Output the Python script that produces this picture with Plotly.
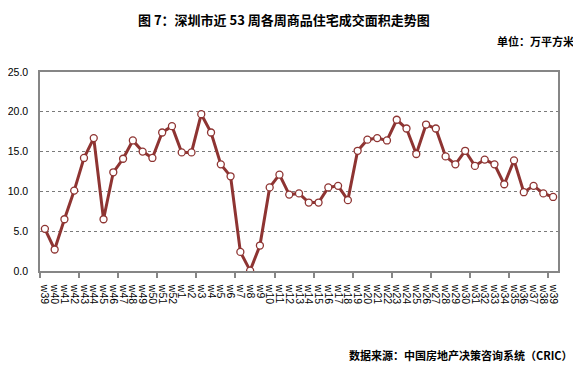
import plotly.graph_objects as go

weeks = ["w39", "w40", "w41", "w42", "w43", "w44", "w45", "w46", "w47", "w48", "w49", "w50", "w51", "w52",
         "w1", "w2", "w3", "w4", "w5", "w6", "w7", "w8", "w9", "w10", "w11", "w12", "w13", "w14", "w15",
         "w16", "w17", "w18", "w19", "w20", "w21", "w22", "w23", "w24", "w25", "w26", "w27", "w28", "w29",
         "w30", "w31", "w32", "w33", "w34", "w35", "w36", "w37", "w38", "w39"]
area = [5.3, 2.7, 6.5, 10.1, 14.2, 16.7, 6.5, 12.4, 14.1, 16.4, 15.0, 14.2, 17.4, 18.2,
        14.9, 14.9, 19.7, 17.4, 13.4, 11.9, 2.4, 0.05, 3.2, 10.5, 12.1, 9.6, 9.75, 8.6, 8.6,
        10.5, 10.7, 8.9, 15.1, 16.5, 16.7, 16.4, 19.0, 17.9, 14.7, 18.4, 17.9, 14.4, 13.4,
        15.1, 13.2, 14.0, 13.4, 10.9, 13.9, 9.9, 10.7, 9.75, 9.3]
y_ticks = [0, 5, 10, 15, 20, 25]
y_tick_text = ["0.0", "5.0", "10.0", "15.0", "20.0", "25.0"]

idx = list(range(len(weeks)))
LINE = "#8E3432"
AXIS = "#868686"
FONT = "Liberation Sans, Noto Sans CJK SC, sans-serif"
CJK = "Noto Sans CJK SC, sans-serif"

# page body has an 8px default margin: figure coords = screen coords - 8
OFF = 8
W, H = 573, 358
ML, MR, MT, MB = 32, 23, 64, 95
pw, ph = W - ML - MR, H - MT - MB


def px(xs):
    return (xs - OFF - ML) / pw


def py(ys):
    return (H - MB - (ys - OFF)) / ph


fig = go.Figure()
fig.add_trace(go.Scatter(
    x=idx, y=area, mode="lines+markers",
    line=dict(color=LINE, width=3),
    marker=dict(size=7, color="white", line=dict(color=LINE, width=1.3)),
    hoverinfo="skip",
))

fig.update_layout(
    width=W, height=H,
    margin=dict(l=ML, r=MR, t=MT, b=MB, autoexpand=False),
    paper_bgcolor="white", plot_bgcolor="white",
    showlegend=False,
    font=dict(family=FONT, size=11, color="#000000"),
    xaxis=dict(
        range=[-0.5, len(weeks) - 0.5], automargin=False,
        tickmode="array", tickvals=idx, ticktext=weeks,
        tickangle=90, ticks="", showgrid=False, zeroline=False,
        showline=True, linecolor=AXIS, linewidth=1.5, mirror=True,
        tickfont=dict(family=FONT, size=10.5, color="#000000"),
        ticklabelstandoff=10,
        minor=dict(tickmode="array", tickvals=[-0.5 + 4 * k for k in range(14)],
                   ticks="outside", ticklen=5, tickcolor=AXIS, tickwidth=1.5, showgrid=False),
    ),
    yaxis=dict(
        range=[0, 25], automargin=False, tickmode="array", tickvals=y_ticks, ticktext=y_tick_text,
        showgrid=True, gridcolor="#7a7a7a", griddash="dot", gridwidth=1,
        zeroline=False, showline=True, linecolor=AXIS, linewidth=1.5, mirror=True,
        ticks="", ticklabelstandoff=8,
        tickfont=dict(family=FONT, size=10.5, color="#000000"),
    ),
    annotations=[
        dict(text="<b>图 7：深圳市近 53 周各周商品住宅成交面积走势图</b>", xref="paper", yref="paper",
             x=px(284), y=py(8), xanchor="center", yanchor="top", showarrow=False,
             font=dict(family=CJK, size=13, color="#000000")),
        dict(text="<b>单位：万平方米</b>", xref="paper", yref="paper",
             x=px(576), y=py(41), xanchor="right", yanchor="middle", showarrow=False,
             font=dict(family=CJK, size=11, color="#000000")),
        dict(text="<b>数据来源：中国房地产决策咨询系统（CRIC）</b>", xref="paper", yref="paper",
             x=px(575), y=py(355), xanchor="right", yanchor="middle", showarrow=False,
             font=dict(family=CJK, size=11, color="#000000")),
    ],
)

fig.write_html("out.html")
